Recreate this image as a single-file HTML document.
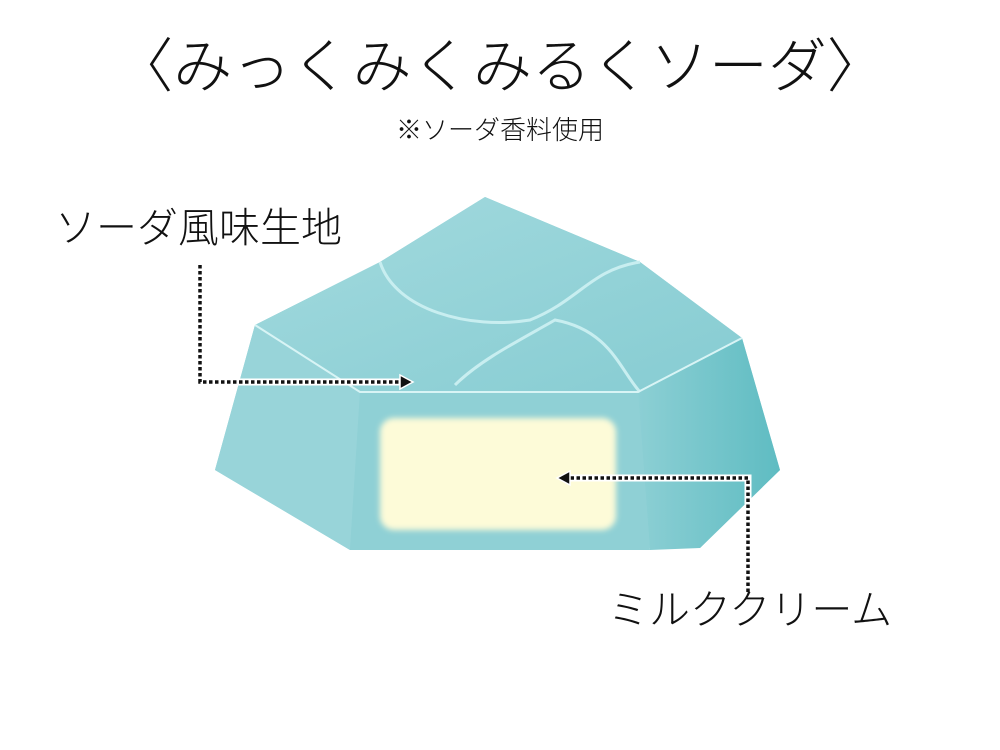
<!DOCTYPE html>
<html><head><meta charset="utf-8"><style>
html,body{margin:0;padding:0;background:#fff;}
body{width:1000px;height:750px;position:relative;overflow:hidden;font-family:"Liberation Sans","Noto Sans CJK JP",sans-serif;color:#111;}
.t{position:absolute;white-space:nowrap;line-height:1;font-weight:300;}
</style></head><body>
<div class="t" style="left:0;width:1000px;text-align:center;top:38px;font-size:59px;">〈みっくみくみるくソーダ〉</div>
<div class="t" style="left:0;width:1000px;text-align:center;top:117px;font-size:26px;">※ソーダ香料使用</div>
<svg width="1000" height="750" style="position:absolute;left:0;top:0">
<defs>
<linearGradient id="g1" x1="0" y1="0" x2="1" y2="1"><stop offset="0" stop-color="#a3dade"/><stop offset="1" stop-color="#86ccd2"/></linearGradient>
<linearGradient id="g2" x1="0" y1="0" x2="1" y2="0"><stop offset="0" stop-color="#8ccfd4"/><stop offset="1" stop-color="#5fbcc2"/></linearGradient>
<filter id="bl"><feGaussianBlur stdDeviation="3"/></filter>
</defs>
<polygon points="255,325 380,262 485,197 640,262 742,338 780,470 700,548 350,550 215,470" fill="#92d2d7"/>
<polygon points="255,325 380,262 485,197 640,262 742,338 640,392 360,392" fill="url(#g1)"/>
<polygon points="255,325 360,392 350,550 215,470" fill="#98d4d9"/>
<polygon points="742,338 780,470 700,548 650,550 638,392" fill="url(#g2)"/>
<polygon points="360,392 638,392 650,550 350,550" fill="#8fd0d5"/>
<path d="M380,262 C395,310 470,330 530,320 C580,300 590,270 640,262" fill="none" stroke="#c8eef0" stroke-width="3"/>
<path d="M455,385 C480,360 520,340 555,320 C610,330 620,370 640,392" fill="none" stroke="#c8eef0" stroke-width="3"/>
<path d="M255,325 L360,392 L638,392 L742,338" fill="none" stroke="#d8f4f5" stroke-width="2"/>
<rect x="380" y="418" width="236" height="112" rx="14" fill="#fdfbd8" filter="url(#bl)"/>
<g fill="none" stroke-linecap="butt">
<polyline points="200,265 200,382 402,382" stroke="#fff" stroke-width="7"/>
<polyline points="200,265 200,382 402,382" stroke="#111" stroke-width="3.5" stroke-dasharray="3.5,2.5"/>
<polyline points="748,592 748,478 568,478" stroke="#fff" stroke-width="7"/>
<polyline points="748,592 748,478 568,478" stroke="#111" stroke-width="3.5" stroke-dasharray="3.5,2.5"/>
</g>
<polygon points="400,375 413,382 400,389" fill="#111" stroke="#fff" stroke-width="1.5"/>
<polygon points="570,471 557,478 570,485" fill="#111" stroke="#fff" stroke-width="1.5"/>
</svg>
<div class="t" style="left:55px;top:208px;font-size:41px;">ソーダ風味生地</div>
<div class="t" style="left:608px;top:590px;font-size:41px;">ミルククリーム</div>
</body></html>
